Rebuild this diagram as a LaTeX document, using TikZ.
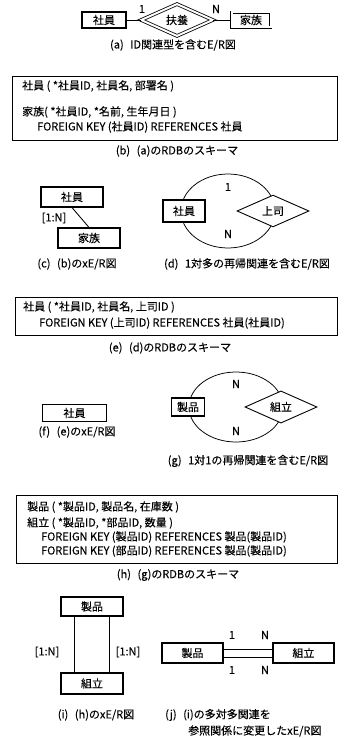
\documentclass[tikz,border=0pt]{standalone}
\usepackage{fontspec}
\setmainfont{Noto Sans CJK JP}[FakeBold=0.12]
\usetikzlibrary{shapes.geometric}
\begin{document}
\begin{tikzpicture}[x=1pt,y=-1pt,
  every node/.style={font=\fontsize{11}{13}\selectfont, inner sep=0pt},
  ent/.style={draw, line width=1.1pt, fill=white, inner sep=0pt},
  entdbl/.style={draw, double, double distance=2pt, line width=0.8pt, fill=white},
  reldbl/.style={draw, shape=diamond, double, double distance=2pt, line width=0.8pt, fill=white},
  rel/.style={draw, shape=diamond, line width=0.9pt, fill=white},
  loopell/.style={draw, shape=ellipse, line width=0.75pt},
  conn/.style={line width=0.85pt},
  schemabox/.style={draw, line width=1pt, anchor=north west},
  sline/.style={anchor=west},
  capt/.style={anchor=center},
  card/.style={anchor=center}]
\useasboundingbox (0,0) rectangle (348,738);

% (a)
\node[ent, minimum width=44, minimum height=16] (a1) at (104,20) {社員};
\node[reldbl, minimum width=72, minimum height=28] (a2) at (177,20) {扶養};
\node[entdbl, minimum width=39, minimum height=15] (a3) at (251,20) {家族};
\draw[conn] (a1) -- (a2);
\draw[conn] (a2) -- (a3);
\node[card] (a1c) at (142,9) {1};
\node[card] (a3c) at (216,9) {N};
\node[capt] (capa) at (173,45) {(a)\hspace{0.6em}ID関連型を含むE/R図};

% (b)
\node[schemabox, minimum width=325, minimum height=64] (bbox) at (12,76) {};
\node[sline] (b1) at (22,86) {社員 ( *社員ID, 社員名, 部署名 )};
\node[sline] (b2) at (22,112) {家族( *社員ID, *名前, 生年月日 )};
\node[sline] (b3) at (37,127) {FOREIGN KEY (社員ID) REFERENCES 社員};
\node[capt] (capb) at (177,151) {(b)\hspace{0.6em}(a)のRDBのスキーマ};

% (c)
\node[ent, minimum width=62, minimum height=20] (c1) at (72,197) {社員};
\node[ent, minimum width=62, minimum height=20] (c2) at (89,238) {家族};
\draw[conn] (c1.south) -- (c2.north);
\node[card] (c1c) at (54,218) {[1:N]};
\node[capt] (capc) at (77,264) {(c)\hspace{0.6em}(b)のxE/R図};

% (d)
\node[loopell, minimum width=94, minimum height=74] (dl) at (228,211) {};
\node[ent, minimum width=42, minimum height=22] (d1) at (184,211) {社員};
\node[rel, minimum width=72, minimum height=26] (d2) at (273,211) {上司};
\node[card] (dc1) at (228,187) {1};
\node[card] (dc2) at (228,234) {N};
\node[capt] (capd) at (247,264) {(d)\hspace{0.6em}1対多の再帰関連を含むE/R図};

% (e)
\node[schemabox, minimum width=322, minimum height=38] (ebox) at (15,297) {};
\node[sline] (e1) at (23,307) {社員 ( *社員ID, 社員名, 上司ID )};
\node[sline] (e2) at (39,323) {FOREIGN KEY (上司ID) REFERENCES 社員(社員ID)};
\node[capt] (cape) at (170,348) {(e)\hspace{0.6em}(d)のRDBのスキーマ};

% (f)
\node[ent, minimum width=64, minimum height=17] (f1) at (74.5,413) {社員};
\node[capt] (capf) at (77,432) {(f)\hspace{0.6em}(e)のxE/R図};

% (g)
\node[loopell, minimum width=94, minimum height=70] (gl) at (236,407) {};
\node[ent, minimum width=33, minimum height=18] (g1) at (188,407) {製品};
\node[rel, minimum width=72, minimum height=25] (g2) at (281,407) {組立};
\node[card] (gc1) at (236,384) {N};
\node[card] (gc2) at (236,431) {N};
\node[capt] (capg) at (248,461) {(g)\hspace{0.6em}1対1の再帰関連を含むE/R図};

% (h)
\node[schemabox, minimum width=321, minimum height=68] (hbox) at (16,495) {};
\node[sline] (h1) at (27,507) {製品 ( *製品ID, 製品名, 在庫数 )};
\node[sline] (h2) at (27,523) {組立 ( *製品ID, *部品ID, 数量 )};
\node[sline] (h3) at (41,537) {FOREIGN KEY (製品ID) REFERENCES 製品(製品ID)};
\node[sline] (h4) at (41,551) {FOREIGN KEY (部品ID) REFERENCES 製品(製品ID)};
\node[capt] (caph) at (178,575) {(h)\hspace{0.6em}(g)のRDBのスキーマ};

% (i)
\node[ent, minimum width=62, minimum height=19] (i1) at (92,606.5) {製品};
\node[ent, minimum width=62, minimum height=21] (i2) at (92,683.5) {組立};
\draw[conn] ([xshift=-18pt]i1.south) -- ([xshift=-18pt]i2.north);
\draw[conn] ([xshift=17pt]i1.south) -- ([xshift=17pt]i2.north);
\node[card] (ic1) at (47,652) {[1:N]};
\node[card] (ic2) at (128,652) {[1:N]};
\node[capt] (capi) at (96,715) {(i)\hspace{0.6em}(h)のxE/R図};

% (j)
\node[ent, minimum width=61, minimum height=20] (j1) at (192.5,653) {製品};
\node[ent, minimum width=61, minimum height=20] (j2) at (303.5,653) {組立};
\draw[conn] ([yshift=4pt]j1.east) -- ([yshift=4pt]j2.west);
\draw[conn] ([yshift=-4pt]j1.east) -- ([yshift=-4pt]j2.west);
\node[card] (jc1) at (232,635) {1};
\node[card] (jc2) at (265,635) {N};
\node[card] (jc3) at (232,670) {1};
\node[card] (jc4) at (265,670) {N};
\node[anchor=west] (capj1) at (165,715) {(j)\hspace{0.6em}(i)の多対多関連を};
\node[anchor=west] (capj2) at (188,731) {参照関係に変更したxE/R図};
\end{tikzpicture}
\end{document}
